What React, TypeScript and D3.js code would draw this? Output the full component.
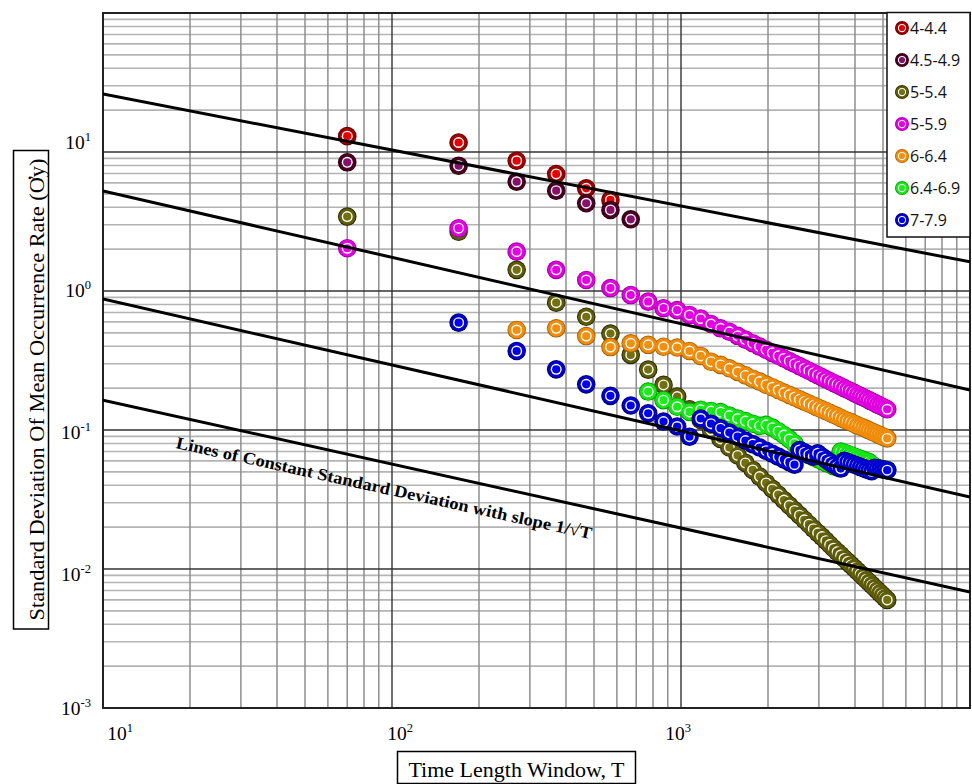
import React from 'react';
import * as d3 from 'd3';

const W = 972;
const H = 784;

// Time windows (x values)
const T_VALUES = [
  70, 170, 270, 370, 470, 570, 670, 770, 870, 970,
  1070, 1170, 1270, 1370, 1470, 1570, 1670, 1770, 1870, 1970,
  2070, 2170, 2270, 2370, 2470, 2570, 2670, 2770, 2870, 2970,
  3070, 3170, 3270, 3370, 3470, 3570, 3670, 3770, 3870, 3970,
  4070, 4170, 4270, 4370, 4470, 4570, 4670, 4770, 4870, 4970,
  5070, 5170,
];

const SERIES_NAMES = ['4-4.4', '4.5-4.9', '5-5.4', '5-5.9', '6-6.4', '6.4-6.9', '7-7.9'];
const SERIES_START_T = [70, 70, 70, 70, 270, 770, 170];

const S_4_44 = [13.0, 11.7, 8.65, 6.95, 5.48, 4.52];
const S_45_49 = [8.43, 7.97, 6.11, 5.27, 4.28, 3.83, 3.28];
const S_5_54 = [
  3.43, 2.67, 1.42, 0.824, 0.653, 0.494, 0.347, 0.272, 0.211, 0.174,
  0.141, 0.118, 0.100, 0.0862, 0.0748, 0.0656, 0.0580, 0.0516, 0.0462, 0.0416,
  0.0377, 0.0343, 0.0313, 0.0287, 0.0264, 0.0244, 0.0226, 0.0210, 0.0195, 0.0182,
  0.0171, 0.0160, 0.0150, 0.0141, 0.0133, 0.0126, 0.0119, 0.0113, 0.0107, 0.0102,
  0.0097, 0.00924, 0.00881, 0.00841, 0.00804, 0.00769, 0.00736, 0.00705, 0.00676, 0.00649,
  0.00623, 0.00599,
];
const S_5_59 = [
  2.03, 2.83, 1.92, 1.42, 1.20, 1.05, 0.935, 0.838, 0.752, 0.728,
  0.672, 0.634, 0.579, 0.539, 0.509, 0.476, 0.447, 0.421, 0.398, 0.378,
  0.359, 0.342, 0.327, 0.313, 0.300, 0.288, 0.277, 0.267, 0.257, 0.248,
  0.240, 0.232, 0.225, 0.218, 0.212, 0.206, 0.200, 0.195, 0.190, 0.185,
  0.180, 0.176, 0.172, 0.168, 0.164, 0.160, 0.157, 0.153, 0.150, 0.147,
  0.144, 0.141,
];
const S_6_64 = [
  0.524, 0.539, 0.474, 0.395, 0.420, 0.410, 0.397, 0.392,
  0.370, 0.341, 0.310, 0.294, 0.278, 0.262, 0.247, 0.234, 0.223, 0.212,
  0.203, 0.194, 0.186, 0.179, 0.172, 0.166, 0.160, 0.155, 0.150, 0.145,
  0.141, 0.137, 0.133, 0.129, 0.126, 0.122, 0.119, 0.116, 0.114, 0.111,
  0.108, 0.106, 0.104, 0.102, 0.0995, 0.0975, 0.0955, 0.0937, 0.0919, 0.0902,
  0.0886, 0.0870,
];
const S_64_69 = [
  0.189, 0.164, 0.147,
  0.135, 0.140, 0.137, 0.1346, 0.127, 0.121, 0.116, 0.111, 0.107, 0.109,
  0.104, 0.098, 0.092, 0.086, 0.080, 0.072, 0.068, 0.066, 0.064, 0.062,
  0.060, 0.058, 0.057, 0.055, 0.054, 0.0700, 0.0686, 0.0672, 0.0658, 0.0645,
  0.0632, 0.0620, 0.0608, 0.0597, 0.0587, 0.0565, 0.0545, 0.0535, 0.0528, 0.0524,
  0.0520, 0.0516,
];
const S_7_79 = [
  0.592, 0.370, 0.273, 0.213, 0.176, 0.150, 0.132, 0.115, 0.106,
  0.0895, 0.121, 0.111, 0.103, 0.0958, 0.0895, 0.0840, 0.0792, 0.0748, 0.0710,
  0.0675, 0.0643, 0.0614, 0.0587, 0.0563, 0.0718, 0.0690, 0.0665, 0.0643, 0.0680,
  0.0645, 0.0615, 0.0588, 0.0563, 0.0545, 0.0528, 0.0600, 0.0588, 0.0576, 0.0565,
  0.0554, 0.0543, 0.0533, 0.0523, 0.0514, 0.0505, 0.0535, 0.0530, 0.0526, 0.0522,
  0.0518, 0.0514,
];
const SERIES_VALUES = [S_4_44, S_45_49, S_5_54, S_5_59, S_6_64, S_64_69, S_7_79];

const RING = ['#a00000', '#4a0020', '#5e5c08', '#e000e0', '#ef8c0a', '#16e616', '#0000d0'];
const OUTLINE = ['#5a0000', '#2a0010', '#262600', '#9a009a', '#a86000', '#009a00', '#00005a'];
const CORE = ['#e80000', '#86106c', '#727010', '#e600e6', '#f2900e', '#1aee1a', '#0000f0'];

// Reference lines of constant standard deviation (values at T=10 and T=10^4)
const REF_T = [10, 10000];
const REF_LEFT = [26.1, 5.24, 0.876, 0.164];
const REF_RIGHT = [1.62, 0.194, 0.033, 0.00684];

const X_TICKS = [10, 100, 1000];
const X_TICK_EXP = ['1', '2', '3'];
const X_TICK_DX = [17, 8, -3];
const Y_TICKS = [10, 1, 0.1, 0.01, 0.001];
const Y_TICK_EXP = ['1', '0', '-1', '-2', '-3'];
const Y_TICK_DY = [-3, 6, 9, 12, 7];

const isDecade = (v: number) => Math.abs(Math.log10(v) - Math.round(Math.log10(v))) < 1e-9;

export default function App() {
  const left = 103, right = 970, top = 13, bottom = 708;
  const x = d3.scaleLog().domain([10, 10000]).range([left, right]);
  const y = d3.scaleLog().domain([0.001, 100]).range([bottom, top]);

  const xGrid = x.ticks();
  const yGrid = y.ticks();

  const serif = "'Liberation Serif', 'Times New Roman', serif";
  const line = d3.line<[number, number]>().x((d) => x(d[0])).y((d) => y(d[1]));

  const annX = x(17.8);
  const annY = y(0.0743);

  const R_OUT = 9.3, R_RING = 8.4, R_WHITE = 5.5, R_CORE = 4.1;

  return (
    <svg width={W} height={H} style={{ position: 'absolute', left: 0, top: 0, background: '#fff' }}>
      <defs>
        <clipPath id="plotClip">
          <rect x={left} y={top} width={right - left} height={bottom - top} />
        </clipPath>
      </defs>
      <rect x={0} y={0} width={W} height={H} fill="#fff" />

      {/* minor horizontal grid */}
      {yGrid.filter((v) => !isDecade(v)).map((v, k) => (
        <line key={'hy' + k} x1={left} x2={right} y1={y(v)} y2={y(v)} stroke="#b4b4b4" strokeWidth={1.6} />
      ))}
      {/* minor vertical grid */}
      {xGrid.filter((v) => !isDecade(v)).map((v, k) => (
        <line key={'vx' + k} x1={x(v)} x2={x(v)} y1={top} y2={bottom} stroke="#8e8e8e" strokeWidth={1.5} />
      ))}
      {/* major grid */}
      {yGrid.filter((v) => isDecade(v)).map((v, k) => (
        <line key={'Hy' + k} x1={left} x2={right} y1={y(v)} y2={y(v)} stroke="#333" strokeWidth={1.4} />
      ))}
      {xGrid.filter((v) => isDecade(v)).map((v, k) => (
        <line key={'Vx' + k} x1={x(v)} x2={x(v)} y1={top} y2={bottom} stroke="#333" strokeWidth={1.4} />
      ))}
      <rect x={left} y={top} width={right - left} height={bottom - top} fill="none" stroke="#222" strokeWidth={2} />

      {/* data markers: dark outline pass, then ringed markers */}
      {SERIES_VALUES.map((vals, si) => {
        const start = T_VALUES.indexOf(SERIES_START_T[si]);
        const pts = vals.map((v, j) => [x(T_VALUES[start + j]), y(v)] as [number, number]);
        return (
          <g key={'s' + si}>
            {pts.map((p, j) => (
              <circle key={'o' + j} cx={p[0]} cy={p[1]} r={R_OUT} fill={OUTLINE[si]} />
            ))}
            {pts.map((p, j) => (
              <g key={'m' + j}>
                <circle cx={p[0]} cy={p[1]} r={R_RING} fill={RING[si]} />
                <circle cx={p[0]} cy={p[1]} r={R_WHITE} fill="#ffffff" />
                <circle cx={p[0]} cy={p[1]} r={R_CORE} fill={CORE[si]} />
              </g>
            ))}
          </g>
        );
      })}

      {/* reference lines */}
      <g clipPath="url(#plotClip)">
        {REF_LEFT.map((v0, k) => (
          <path
            key={'ref' + k}
            d={line([[REF_T[0], v0], [REF_T[1], REF_RIGHT[k]]]) || ''}
            stroke="#000"
            strokeWidth={3}
            fill="none"
          />
        ))}
      </g>

      {/* annotation */}
      <text
        x={annX}
        y={annY}
        transform={`rotate(12.4 ${annX} ${annY})`}
        fontFamily={serif}
        fontWeight="bold"
        fontSize={17}
        textLength={425}
        lengthAdjust="spacingAndGlyphs"
        fill="#000"
      >
        Lines of Constant Standard Deviation with slope 1/√T
      </text>

      {/* y tick labels */}
      {Y_TICKS.map((v, k) => (
        <text key={'yl' + k} x={91} y={y(v) + Y_TICK_DY[k]} textAnchor="end" fontFamily={serif} fontSize={19.5} fill="#000">
          10
          <tspan fontSize={12.5} dy={-8}>{Y_TICK_EXP[k]}</tspan>
        </text>
      ))}
      {/* x tick labels */}
      {X_TICKS.map((v, k) => (
        <text key={'xl' + k} x={x(v) + X_TICK_DX[k]} y={740} textAnchor="middle" fontFamily={serif} fontSize={19.5} fill="#000">
          10
          <tspan fontSize={12.5} dy={-8}>{X_TICK_EXP[k]}</tspan>
        </text>
      ))}

      {/* x axis title */}
      <rect x={397.5} y={751.5} width={238} height={32} fill="#fff" stroke="#000" strokeWidth={1.5} />
      <text x={516.5} y={776.5} textAnchor="middle" fontFamily={serif} fontSize={22} fill="#000">
        Time Length Window, T
      </text>

      {/* y axis title */}
      <rect x={13.5} y={150.5} width={35} height={478.5} fill="#fff" stroke="#000" strokeWidth={1.5} />
      <text
        x={0}
        y={0}
        transform={`translate(43.5 389.5) rotate(-90)`}
        textAnchor="middle"
        fontFamily={serif}
        fontSize={22}
        textLength={462}
        lengthAdjust="spacingAndGlyphs"
        fill="#000"
      >
        Standard Deviation Of Mean Occurrence Rate (Ơy)
      </text>

      {/* legend */}
      <rect x={887} y={12.5} width={83} height={224.5} fill="#fff" stroke="#111" strokeWidth={1.5} />
      {SERIES_NAMES.map((name, k) => {
        const cy = 28 + k * 32;
        const s = 0.75;
        return (
          <g key={'lg' + k}>
            <circle cx={902} cy={cy} r={R_OUT * s} fill={OUTLINE[k]} />
            <circle cx={902} cy={cy} r={R_RING * s} fill={RING[k]} />
            <circle cx={902} cy={cy} r={R_WHITE * s} fill="#fff" />
            <circle cx={902} cy={cy} r={R_CORE * s} fill={CORE[k]} />
            <text x={910} y={cy} dy="0.36em" fontFamily="'Open Sans', 'Noto Sans', sans-serif" fontSize={16} fill="#111">
              {name}
            </text>
          </g>
        );
      })}
    </svg>
  );
}
